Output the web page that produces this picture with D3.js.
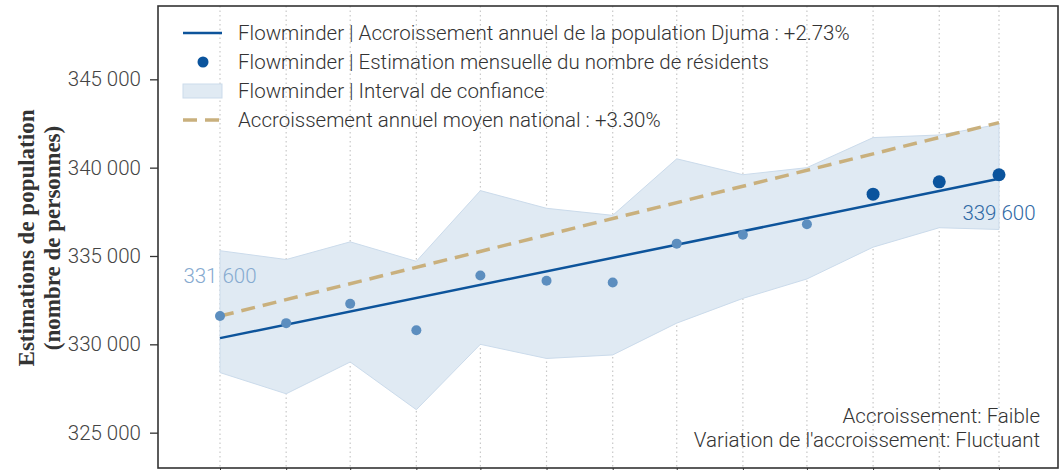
<!DOCTYPE html>
<html>
<head>
<meta charset="utf-8">
<script src="https://cdn.jsdelivr.net/npm/d3@7"></script>
<style>
  body { margin: 0; background: #fff; }
  svg text { font-family: Roboto, 'Open Sans', sans-serif; font-weight: 300; }
</style>
</head>
<body>
<svg id="chart" width="1062" height="470"></svg>
<script>
// monthly estimates, Flowminder
var months = ['2022-03-01', '2022-04-01', '2022-05-01', '2022-06-01', '2022-07-01', '2022-08-01',
  '2022-09-01', '2022-10-01', '2022-11-01', '2022-12-01', '2023-01-01', '2023-02-01', '2023-03-01'];
var estimates = [331600, 331200, 332300, 330800, 333900, 333600, 333500, 335700, 336200, 336800, 338500, 339200, 339600];
var ciLow = [328400, 327200, 329000, 326300, 330000, 329200, 329400, 331200, 332600, 333700, 335500, 336600, 336500];
var ciHigh = [335300, 334800, 335800, 334700, 338700, 337700, 337300, 340500, 339600, 340000, 341700, 341850, 342450];
var recent = [0, 0, 0, 0, 0, 0, 0, 0, 0, 0, 1, 1, 1];

// trend lines (start / end of period)
var trendDates = ['2022-03-01', '2023-03-01'];
var trendDjuma = [330350, 339370];
var trendNational = [331600, 342550];

var yTicks = [325000, 330000, 335000, 340000, 345000];

var legendLabels = [
  'Flowminder | Accroissement annuel de la population Djuma : +2.73%',
  'Flowminder | Estimation mensuelle du nombre de résidents',
  'Flowminder | Interval de confiance',
  'Accroissement annuel moyen national : +3.30%'
];
var notes = ['Accroissement: Faible', "Variation de l'accroissement: Fluctuant"];

var color = {
  trend: '#0d549b',
  dot: '#5c8ebf',
  dotRecent: '#0b549d',
  band: '#e0eaf3',
  bandStroke: '#cbdbeb',
  national: '#c9b07d',
  text: '#333',
  grid: '#c8c8c8'
};

var fontSize = '20.5px';

var parse = d3.timeParse('%Y-%m-%d');
var fr = d3.formatLocale({ decimal: ',', thousands: ' ', grouping: [3], currency: ['', ''] });
var fmt = fr.format(',d');

var svg = d3.select('#chart');

var frame = { left: 158, top: 6, right: 1058, bottom: 468 };

var x = d3.scaleTime()
  .domain([parse(months[0]), parse(months[months.length - 1])])
  .range([220, 999]);

var y = d3.scaleLinear()
  .domain([323000, 349150])
  .range([frame.bottom, frame.top]);

var data = months.map(function(m, i) {
  return { date: parse(m), value: estimates[i], lo: ciLow[i], hi: ciHigh[i], recent: recent[i] };
});

// vertical dotted grid
svg.append('g').selectAll('line')
  .data(data)
  .enter().append('line')
  .attr('x1', function(d) { return x(d.date); })
  .attr('x2', function(d) { return x(d.date); })
  .attr('y1', frame.top)
  .attr('y2', frame.bottom)
  .style('stroke', color.grid)
  .style('stroke-width', 1.2)
  .style('stroke-dasharray', '1.5,3');

// confidence band
var area = d3.area()
  .x(function(d) { return x(d.date); })
  .y0(function(d) { return y(d.lo); })
  .y1(function(d) { return y(d.hi); });

svg.append('path')
  .datum(data)
  .attr('d', area)
  .style('fill', color.band)
  .style('stroke', color.bandStroke)
  .style('stroke-width', 1);

var line = d3.line()
  .x(function(d) { return x(d.date); })
  .y(function(d) { return y(d.v); });

var national = trendDates.map(function(t, i) { return { date: parse(t), v: trendNational[i] }; });
var djuma = trendDates.map(function(t, i) { return { date: parse(t), v: trendDjuma[i] }; });

svg.append('path')
  .datum(national)
  .attr('d', line)
  .style('fill', 'none')
  .style('stroke', color.national)
  .style('stroke-width', 3.5)
  .style('stroke-dasharray', '14,8');

svg.append('path')
  .datum(djuma)
  .attr('d', line)
  .style('fill', 'none')
  .style('stroke', color.trend)
  .style('stroke-width', 2.5);

// monthly points
svg.append('g').selectAll('circle')
  .data(data)
  .enter().append('circle')
  .attr('cx', function(d) { return x(d.date); })
  .attr('cy', function(d) { return y(d.value); })
  .attr('r', function(d) { return d.recent ? 6.5 : 5; })
  .style('fill', function(d) { return d.recent ? color.dotRecent : color.dot; });

// first / last value labels
var first = data[0], last = data[data.length - 1];
svg.append('text')
  .attr('x', x(first.date))
  .attr('y', y(first.value) - 33)
  .attr('text-anchor', 'middle')
  .style('font-size', fontSize)
  .style('fill', '#86aad0')
  .text(fmt(first.value));

svg.append('text')
  .attr('x', x(last.date))
  .attr('y', y(last.value) + 45)
  .attr('text-anchor', 'middle')
  .style('font-size', fontSize)
  .style('fill', '#2f69a5')
  .text(fmt(last.value));

// frame
svg.append('rect')
  .attr('x', frame.left)
  .attr('y', frame.top)
  .attr('width', frame.right - frame.left)
  .attr('height', frame.bottom - frame.top)
  .style('fill', 'none')
  .style('stroke', '#333')
  .style('stroke-width', 1.6);

// y axis
var yAxis = svg.append('g')
  .attr('transform', 'translate(' + frame.left + ',0)')
  .call(d3.axisLeft(y).tickValues(yTicks).tickSize(8).tickPadding(9).tickFormat(fmt));
yAxis.select('.domain').remove();
yAxis.selectAll('line').style('stroke', '#333').style('stroke-width', 1.3);
yAxis.selectAll('text')
  .style('font-family', 'Roboto, sans-serif')
  .style('font-weight', 300)
  .style('font-size', fontSize)
  .style('fill', '#444');

svg.append('g')
  .attr('transform', 'translate(0,' + frame.bottom + ')')
  .call(d3.axisBottom(x).tickValues(data.map(function(d) { return d.date; })).tickSize(6).tickFormat(''))
  .call(function(g) { g.select('.domain').remove(); })
  .selectAll('line').style('stroke', '#333');

// y title
var title = svg.append('text')
  .attr('transform', 'translate(40,238) rotate(-90)')
  .attr('text-anchor', 'middle')
  .style('font-family', "'Liberation Serif', 'DejaVu Serif', serif")
  .style('font-weight', 600)
  .style('font-size', '23px')
  .style('fill', '#333');
title.append('tspan').attr('x', 0).attr('dy', '-0.25em').text('Estimations de population');
title.append('tspan').attr('x', 0).attr('dy', '1.1em').text('(nombre de personnes)');

// legend
var legend = svg.append('g').attr('transform', 'translate(183,33)');
var rowH = 29;

legend.append('line')
  .attr('x1', 0).attr('x2', 39).attr('y1', 0).attr('y2', 0)
  .style('stroke', color.trend).style('stroke-width', 2.5);
legend.append('circle')
  .attr('cx', 20).attr('cy', rowH).attr('r', 5.5)
  .style('fill', color.dotRecent);
legend.append('rect')
  .attr('x', 0).attr('y', rowH * 2 - 7).attr('width', 39).attr('height', 14)
  .style('fill', color.band).style('stroke', color.bandStroke);
legend.append('line')
  .attr('x1', 0).attr('x2', 39).attr('y1', rowH * 3).attr('y2', rowH * 3)
  .style('stroke', color.national).style('stroke-width', 3.5).style('stroke-dasharray', '14,8');

legend.selectAll('text.lab')
  .data(legendLabels)
  .enter().append('text')
  .attr('class', 'lab')
  .attr('x', 55)
  .attr('y', function(d, i) { return i * rowH; })
  .attr('dy', '0.35em')
  .style('font-size', fontSize)
  .style('fill', color.text)
  .text(function(d) { return d; });

// notes, bottom right
svg.selectAll('text.note')
  .data(notes)
  .enter().append('text')
  .attr('class', 'note')
  .attr('x', 1040)
  .attr('y', function(d, i) { return 423 + i * 24; })
  .attr('text-anchor', 'end')
  .style('font-size', fontSize)
  .style('fill', color.text)
  .text(function(d) { return d; });
</script>
</body>
</html>
